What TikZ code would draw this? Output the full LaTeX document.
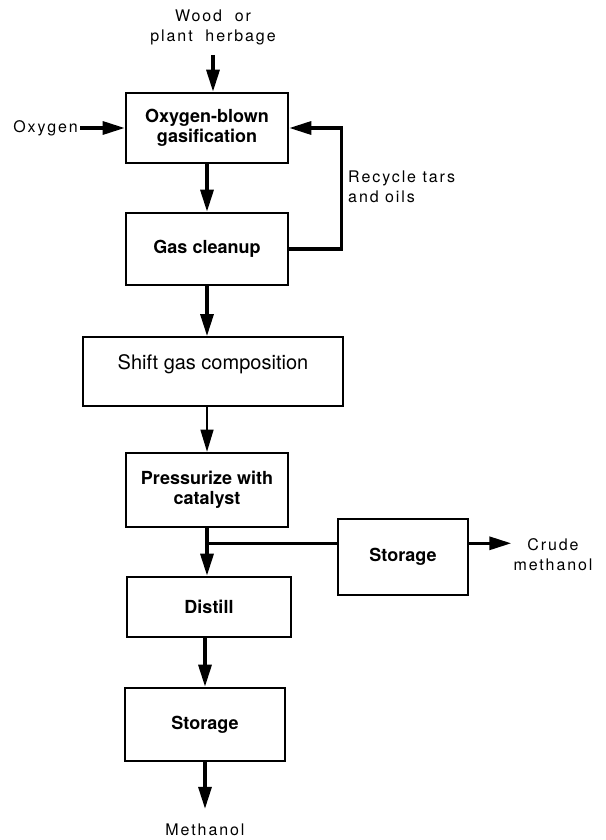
\documentclass[tikz,border=0pt]{standalone}
\usepackage{fontspec}
\setmainfont{TeX Gyre Heros}
\newfontfamily\spaced[LetterSpace=12]{TeX Gyre Heros}
\usetikzlibrary{arrows.meta}

\begin{document}
\begin{tikzpicture}[x=1pt, y=-1pt,
    box/.style={draw, line width=2.6pt, inner sep=0pt, align=center,
      font=\bfseries\fontsize{18}{20}\selectfont},
    flow/.style={line width=3.2pt, -{Triangle[length=22pt,width=13pt]}},
    tag/.style={align=center, inner sep=2pt, font=\spaced\fontsize{16}{20}\selectfont}]
    \useasboundingbox (0,0) rectangle (605,840);

    % Boxes
    \node[box, minimum width=162pt, minimum height=70pt] (gasify) at (207,128) {Oxygen-blown\\gasification};
    \node[box, minimum width=162pt, minimum height=72pt] (cleanup) at (207,249) {Gas cleanup};
    \node[box, minimum width=260pt, minimum height=69pt, line width=1.8pt, text depth=18pt,
      font=\fontsize{20}{22}\selectfont] (shift) at (213,371.5) {Shift gas composition};
    \node[box, minimum width=162pt, minimum height=74pt] (pressurize) at (207,490) {Pressurize with\\catalyst};
    \node[box, minimum width=130pt, minimum height=76pt] (tank) at (403,557) {Storage};
    \node[box, minimum width=164pt, minimum height=60pt] (distill) at (209,607) {Distill};
    \node[box, minimum width=160pt, minimum height=73pt] (storage) at (205,724.5) {Storage};

    % Labels
    \node[tag] (wood) at (213,27) {Wood\ \ or\\plant\ \ herbage};
    \node[tag, anchor=east] (oxygen) at (80,128) {Oxygen};
    \node[tag, anchor=west, align=left] (recycle) at (346,187) {Recycle tars\\and oils};
    \node[tag] (crude) at (553,555) {Crude\\methanol};
    \node[tag] (methanol) at (205,830) {Methanol};

    % Edges
    \draw[flow, shorten <=8pt] (wood.south) -- (wood.south |- gasify.north);
    \draw[flow] (oxygen.east) -- (gasify.west |- oxygen.east);
    \draw[flow] (gasify.south) -- (gasify.south |- cleanup.north);
    \draw[flow] (cleanup.east) -- ++(52,0) |- (gasify.east);
    \draw[flow] (cleanup.south) -- (cleanup.south |- shift.north);
    \draw[flow, line width=1.2pt] (pressurize.north |- shift.south) -- (pressurize.north);
    \path (pressurize.south) ++(0,15) coordinate (split);
    \draw[flow] (pressurize.south) -- (pressurize.south |- distill.north);
    \draw[line width=3.2pt] (split) -- (split -| tank.west);
    \draw[flow] (split -| tank.east) -- (split -| crude.west);
    \draw[flow] (storage.north |- distill.south) -- (storage.north);
    \draw[flow, shorten >=13pt] (storage.south) -- (methanol.north);
  \end{tikzpicture}
\end{document}
